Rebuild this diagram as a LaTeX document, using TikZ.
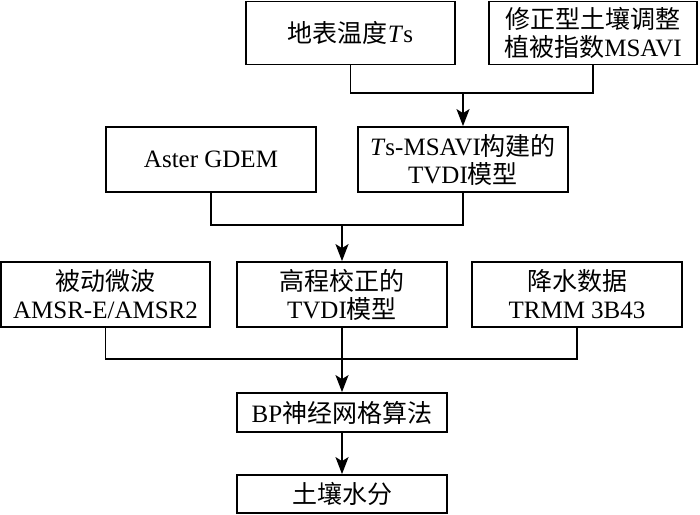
\documentclass[tikz,border=0pt]{standalone}
\usepackage{fontspec}
\setmainfont{Liberation Serif}
\newfontfamily\cjk{Noto Sans CJK SC}
\usetikzlibrary{arrows.meta}

\begin{document}
\begin{tikzpicture}[x=1pt, y=-1pt, line width=1.8pt,
  blk/.style={draw, align=center, inner sep=0pt, minimum width=210pt, minimum height=65pt, font=\fontsize{25}{28}\selectfont},
  arr/.style={-{Stealth[length=17pt, width=13pt, inset=4pt]}}]
\useasboundingbox (0, 0) rectangle (700, 514);
% first row
\node[blk, minimum width=209pt, minimum height=63pt] (ts) at (350.5, 33) {{\cjk 地表温度}\textit{T}s};
\node[blk, minimum width=208pt, minimum height=63pt] (msavi) at (593, 33) {{\cjk 修正型土壤调整}\\{\cjk 植被指数}MSAVI};
% second row
\node[blk] (gdem) at (211, 159.5) {Aster GDEM};
\node[blk] (tvdi) at (463, 159.5) {\textit{T}s-MSAVI{\cjk 构建的}\\TVDI{\cjk 模型}};
% third row
\node[blk, minimum width=209pt] (amsr) at (105.5, 294.5) {{\cjk 被动微波}\\AMSR-E/AMSR2};
\node[blk] (tvdic) at (342, 294.5) {{\cjk 高程校正的}\\TVDI{\cjk 模型}};
\node[blk] (trmm) at (577, 294.5) {{\cjk 降水数据}\\TRMM 3B43};
% bottom
\node[blk, minimum height=39pt] (bp) at (342, 412.5) {BP{\cjk 神经网格算法}};
\node[blk, minimum height=38pt] (sm) at (342, 494) {{\cjk 土壤水分}};
% junctions
\coordinate (j1) at (463, 93);
\coordinate (j2) at (342, 225);
\coordinate (j3) at (342, 359);
\draw (ts.south) |- (j1) -| (msavi.south);
\draw[arr] (j1) -- (tvdi.north);
\draw (gdem.south) |- (j2) -| (tvdi.south);
\draw[arr] (j2) -- (tvdic.north);
\draw (amsr.south) |- (j3) -| (trmm.south);
\draw[arr] (tvdic.south) -- (bp.north);
\draw[arr] (bp.south) -- (sm.north);
\end{tikzpicture}
\end{document}
